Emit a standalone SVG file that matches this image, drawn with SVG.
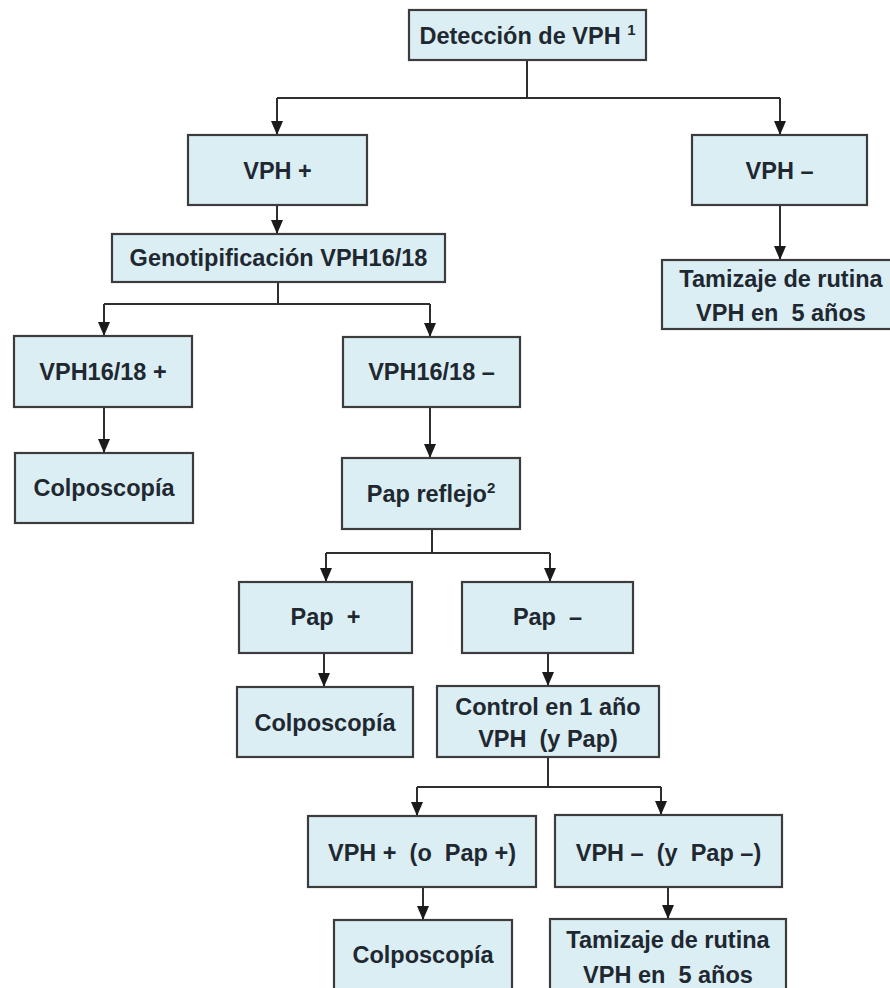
<svg xmlns="http://www.w3.org/2000/svg" width="890" height="988" viewBox="0 0 890 988">
<defs>
<style>
.box{fill:#dbeef4;stroke:#3c3c3c;stroke-width:2.2}
.t{font-family:"Liberation Sans",Arial,sans-serif;font-weight:bold;font-size:23.5px;fill:#1f2830;text-anchor:middle;white-space:pre}
.sup{font-size:15px}
.c{fill:none;stroke:#2e2e2e;stroke-width:2}
.a{fill:none;stroke:#2e2e2e;stroke-width:2;marker-end:url(#arr)}
</style>
<marker id="arr" markerUnits="userSpaceOnUse" markerWidth="14" markerHeight="12" viewBox="0 0 14 12" refX="14" refY="6" orient="auto">
<path d="M0,0 L14,6 L0,12 Z" fill="#1a1a1a"/>
</marker>
</defs>
<rect width="890" height="988" fill="#ffffff"/>
<g id="connectors">
<path class="c" d="M527,60 V98 M277,98 H780"/>
<path class="c" d="M278,282 V304 M104,304 H430"/>
<path class="c" d="M432,529 V553 M326,553 H550"/>
<path class="c" d="M548,757 V787 M417,787 H661"/>
<path class="a" d="M277,98 V135"/>
<path class="a" d="M780,98 V135"/>
<path class="a" d="M277,205 V234"/>
<path class="a" d="M780,205 V260"/>
<path class="a" d="M104,304 V336"/>
<path class="a" d="M430,304 V337"/>
<path class="a" d="M104,407 V453"/>
<path class="a" d="M430,407 V458"/>
<path class="a" d="M326,553 V582"/>
<path class="a" d="M550,553 V582"/>
<path class="a" d="M324,653 V687"/>
<path class="a" d="M548,653 V686"/>
<path class="a" d="M417,787 V816"/>
<path class="a" d="M661,787 V815"/>
<path class="a" d="M423,887 V920"/>
<path class="a" d="M668,887 V919"/>
</g>
<g id="n1"><rect class="box" x="409" y="10" width="237" height="50"/><text class="t" x="527.5" y="44">Detección de VPH <tspan class="sup" dy="-9">1</tspan></text></g>
<g id="n2"><rect class="box" x="188" y="135" width="179" height="70"/><text class="t" x="277.5" y="179">VPH +</text></g>
<g id="n3"><rect class="box" x="692" y="135" width="175" height="70"/><text class="t" x="779.5" y="179">VPH –</text></g>
<g id="n4"><rect class="box" x="112" y="234" width="333" height="48"/><text class="t" x="278.5" y="266">Genotipificación VPH16/18</text></g>
<g id="n5"><rect class="box" x="662" y="260" width="240" height="69"/><text class="t" x="781" y="287">Tamizaje de rutina</text><text class="t" x="781" y="321">VPH en  5 años</text></g>
<g id="n6"><rect class="box" x="14" y="336" width="178" height="71"/><text class="t" x="103" y="380">VPH16/18 +</text></g>
<g id="n7"><rect class="box" x="343" y="337" width="177" height="70"/><text class="t" x="431.5" y="380">VPH16/18 –</text></g>
<g id="n8"><rect class="box" x="15" y="453" width="178" height="70"/><text class="t" x="104" y="496">Colposcopía</text></g>
<g id="n9"><rect class="box" x="342" y="458" width="178" height="71"/><text class="t" x="431" y="502">Pap reflejo<tspan class="sup" dy="-9">2</tspan></text></g>
<g id="n10"><rect class="box" x="239" y="582" width="173" height="71"/><text class="t" x="325.5" y="625">Pap  +</text></g>
<g id="n11"><rect class="box" x="462" y="582" width="171" height="71"/><text class="t" x="547.5" y="625">Pap  –</text></g>
<g id="n12"><rect class="box" x="237" y="687" width="176" height="70"/><text class="t" x="325" y="731">Colposcopía</text></g>
<g id="n13"><rect class="box" x="437" y="686" width="222" height="71"/><text class="t" x="548" y="715">Control en 1 año</text><text class="t" x="548" y="747">VPH  (y Pap)</text></g>
<g id="n14"><rect class="box" x="308" y="816" width="228" height="71"/><text class="t" x="422" y="861">VPH +  (o  Pap +)</text></g>
<g id="n15"><rect class="box" x="555" y="815" width="227" height="72"/><text class="t" x="668.5" y="861">VPH –  (y  Pap –)</text></g>
<g id="n16"><rect class="box" x="334" y="920" width="178" height="75"/><text class="t" x="423" y="963">Colposcopía</text></g>
<g id="n17"><rect class="box" x="550" y="919" width="236" height="76"/><text class="t" x="668" y="948">Tamizaje de rutina</text><text class="t" x="668" y="983">VPH en  5 años</text></g>
</svg>
